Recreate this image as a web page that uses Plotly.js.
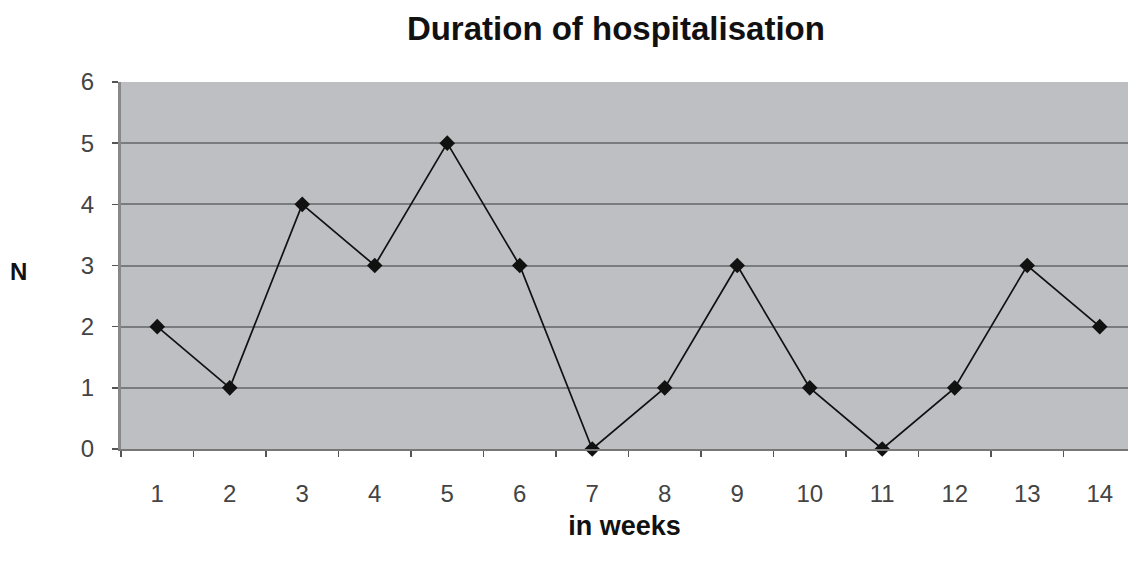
<!DOCTYPE html>
<html>
<head>
<meta charset="utf-8">
<script src="https://cdn.plot.ly/plotly-3.0.1.min.js"></script>
<style>html,body{margin:0;padding:0;background:#fff;}#chart{width:1128px;height:565px;}</style>
</head>
<body>
<div id="chart"></div>
<script>
const weeks = ["1","2","3","4","5","6","7","8","9","10","11","12","13","14"];
const counts = [2,1,4,3,5,3,0,1,3,1,0,1,3,2];
const yTicks = [0,1,2,3,4,5,6];

const trace = {
  x: weeks, y: counts, type: 'scatter', mode: 'lines+markers',
  line: {color: '#111', width: 1.7},
  marker: {symbol: 'diamond', size: 12, color: '#111'},
  cliponaxis: false, hoverinfo: 'skip'
};

const layout = {
  width: 1128, height: 565,
  margin: {l: 121, r: 0, t: 82, b: 116},
  paper_bgcolor: '#ffffff', plot_bgcolor: '#bebfc3',
  showlegend: false,
  font: {family: 'Liberation Sans, Arial, sans-serif', color: '#333'},
  title: {text: '<b>Duration of hospitalisation</b>', x: 0.546, xanchor: 'center', y: 0.95, yanchor: 'middle',
          font: {size: 33, color: '#111', family: 'Liberation Sans, Arial, sans-serif'}},
  xaxis: {
    type: 'category', range: [-0.5, 13.39], tickson: 'boundaries',
    ticks: 'outside', ticklen: 6, tickwidth: 1.5, tickcolor: '#555',
    showline: true, linecolor: '#777', linewidth: 2,
    showgrid: false, zeroline: false,
    tickfont: {size: 24, color: '#444'}, ticklabelstandoff: 22,
    title: {text: '<b>in weeks</b>', standoff: 10, font: {size: 27, color: '#111'}}
  },
  yaxis: {
    range: [0, 6], tickvals: yTicks, ticktext: yTicks.map(String),
    ticks: 'outside', ticklen: 6, tickwidth: 1.5, tickcolor: '#555',
    showline: true, linecolor: '#888', linewidth: 3,
    showgrid: true, gridcolor: '#7a7b7f', gridwidth: 2,
    zeroline: false,
    tickfont: {size: 24, color: '#444'}, ticklabelstandoff: 13
  },
  annotations: [{
    text: '<b>N</b>', xref: 'paper', yref: 'paper', x: -0.102, y: 0.485,
    xanchor: 'center', yanchor: 'middle', showarrow: false,
    font: {size: 24, color: '#111'}
  }]
};

Plotly.newPlot('chart', [trace], layout, {displayModeBar: false, staticPlot: true});
</script>
</body>
</html>
